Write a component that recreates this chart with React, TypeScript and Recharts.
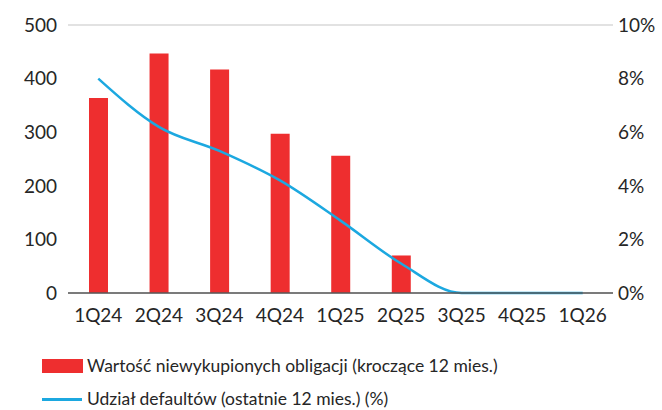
import { Bar, CartesianGrid, ComposedChart, Line, XAxis, YAxis } from 'recharts'

const quarters = ['1Q24', '2Q24', '3Q24', '4Q24', '1Q25', '2Q25', '3Q25', '4Q25', '1Q26']
const unredeemedValue = [364, 447, 417, 297, 256, 70, 0, 0, 0]
const defaultShare = [8.0, 6.2, 5.3, 4.2, 2.7, 1.1, 0, 0, 0]
const leftTicks = [0, 100, 200, 300, 400, 500]
const rightTicks = [0, 2, 4, 6, 8, 10]

const BAR_COLOR = '#ee2e2f'
const LINE_COLOR = '#1ca8e0'
const FONT = 'Lato, "Open Sans", sans-serif'

const chartData = quarters.map((q, i) => ({
  quarter: q,
  value: unredeemedValue[i],
  share: defaultShare[i],
}))

const tickStyle = { fill: '#262626', fontSize: 19, fontFamily: FONT }

function App() {
  return (
    <div style={{ position: 'absolute', left: 0, top: 0, width: 662, height: 410, background: '#fff' }}>
      <ComposedChart
        width={662}
        height={410}
        data={chartData}
        margin={{ top: 25, right: 0, bottom: 87, left: 0 }}
      >
        <CartesianGrid vertical={false} stroke="#d9d9d9" strokeWidth={1.5} />
        <XAxis
          dataKey="quarter"
          height={30}
          tickLine={false}
          tickSize={0}
          tickMargin={16}
          axisLine={{ stroke: '#595959', strokeWidth: 1.5 }}
          tick={tickStyle}
          interval={0}
        />
        <YAxis
          yAxisId="left"
          width={68}
          domain={[0, 500]}
          ticks={leftTicks}
          axisLine={false}
          tickLine={false}
          tickSize={0}
          tickMargin={11}
          tick={tickStyle}
        />
        <YAxis
          yAxisId="right"
          orientation="right"
          width={49}
          domain={[0, 10]}
          ticks={rightTicks}
          axisLine={false}
          tickLine={false}
          tickSize={0}
          tickMargin={5}
          tick={{ ...tickStyle, textAnchor: 'start' }}
          tickFormatter={(v: number) => `${v}%`}
        />
        <Bar yAxisId="left" dataKey="value" fill={BAR_COLOR} barSize={19} isAnimationActive={false} />
        <Line
          yAxisId="right"
          dataKey="share"
          type="monotone"
          stroke={LINE_COLOR}
          strokeWidth={2.5}
          dot={false}
          activeDot={false}
          isAnimationActive={false}
        />
      </ComposedChart>

      <div
        style={{
          position: 'absolute',
          left: 42,
          top: 356,
          fontFamily: FONT,
          fontSize: 17.5,
          color: '#262626',
          lineHeight: '20px',
        }}
      >
        <div style={{ display: 'flex', alignItems: 'center', height: 20 }}>
          <span style={{ display: 'inline-block', width: 41, height: 14, background: BAR_COLOR, marginRight: 4 }} />
          <span>Wartość niewykupionych obligacji (kroczące 12 mies.)</span>
        </div>
        <div style={{ display: 'flex', alignItems: 'center', height: 20, marginTop: 13 }}>
          <span style={{ display: 'inline-block', width: 40, height: 3, background: LINE_COLOR, marginRight: 5 }} />
          <span>Udział defaultów (ostatnie 12 mies.) (%)</span>
        </div>
      </div>
    </div>
  )
}

export default App
